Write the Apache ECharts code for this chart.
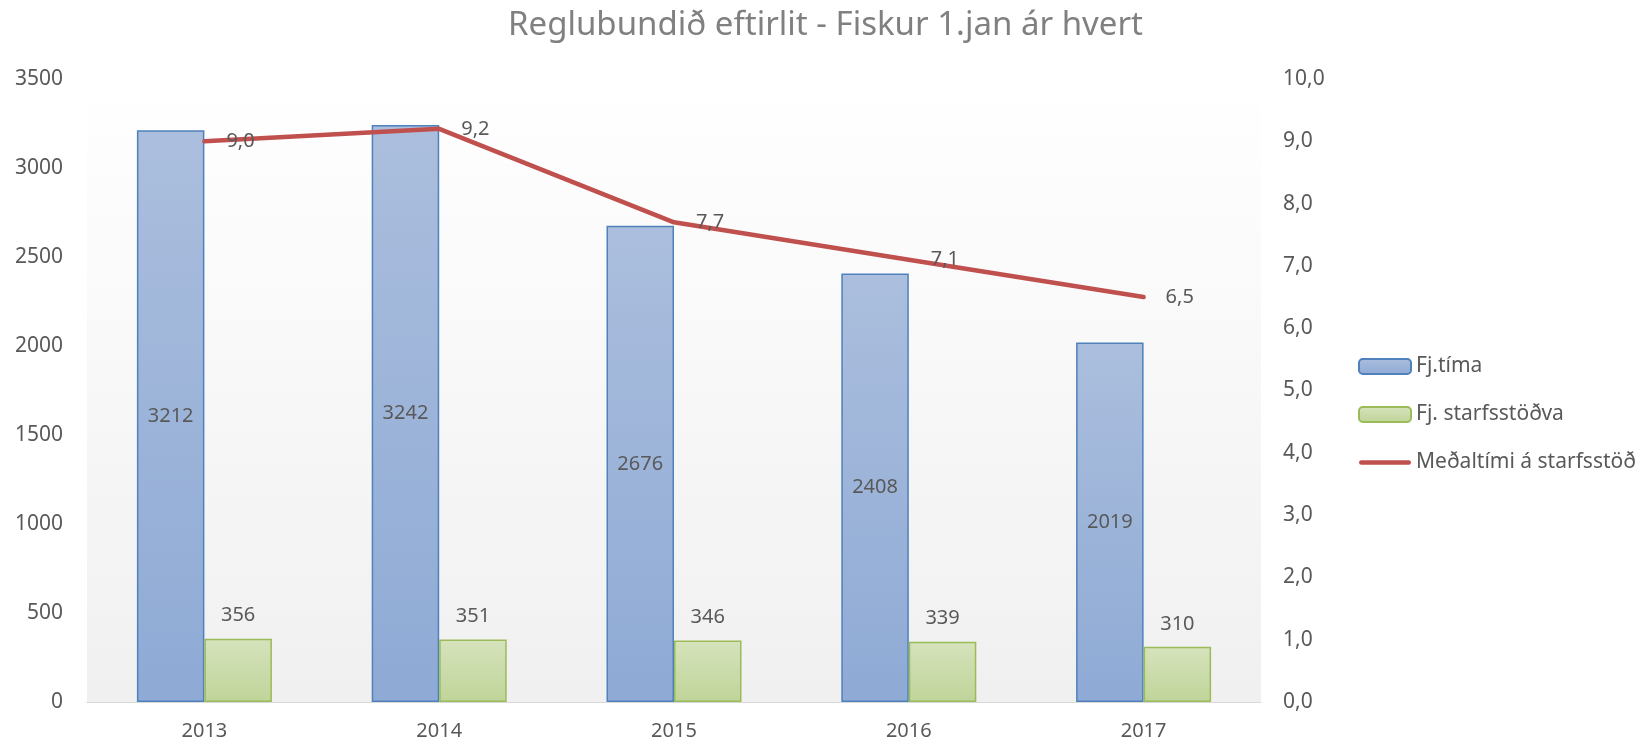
<!DOCTYPE html>
<html>
<head>
<meta charset="utf-8">
<script src="https://cdn.jsdelivr.net/npm/echarts@6/dist/echarts.min.js"></script>
<style>
  html, body { margin: 0; padding: 0; background: #fff; }
  #main { width: 1651px; height: 745px; }
</style>
</head>
<body>
<div id="main"></div>
<script>
const years = ['2013', '2014', '2015', '2016', '2017'];
const fjTima = [3212, 3242, 2676, 2408, 2019];
const fjStarfsstodva = [356, 351, 346, 339, 310];
const medaltimi = [9.0, 9.2, 7.7, 7.1, 6.5];

const chart = echarts.init(document.getElementById('main'));
const font = '"Noto Sans", "Open Sans", sans-serif';
const txt = '#595959';
const comma1 = v => v.toFixed(1).replace('.', ',');

function grad(top, bottom) {
  return new echarts.graphic.LinearGradient(0, 0, 0, 1, [
    { offset: 0, color: top },
    { offset: 1, color: bottom }
  ]);
}

// thin rounded bar used as the legend mark of the line
const lineIcon = 'path://M2.25,0 H49.75 A2.25,2.25 0 0 1 49.75,4.5 H2.25 A2.25,2.25 0 0 1 2.25,0 Z';

const option = {
  animation: false,
  textStyle: { fontFamily: font },
  title: {
    text: 'Reglubundið eftirlit - Fiskur 1.jan ár hvert',
    left: 'center',
    top: 4,
    textStyle: { fontFamily: font, fontSize: 33, fontWeight: 'normal', color: '#808080' }
  },
  grid: {
    left: 87, right: 390, top: 79, bottom: 43,
    show: true,
    borderWidth: 0,
    backgroundColor: grad('#ffffff', '#f0f0f0')
  },
  legend: {
    orient: 'vertical',
    left: 1358,
    top: 356,
    padding: 0,
    itemWidth: 52,
    itemHeight: 15,
    itemGap: 27,
    textStyle: { fontFamily: font, fontSize: 21, color: txt },
    data: [
      'Fj.tíma',
      'Fj. starfsstöðva',
      { name: 'Meðaltími á starfsstöð', icon: lineIcon }
    ]
  },
  xAxis: {
    type: 'category',
    data: years,
    axisLine: { lineStyle: { color: '#d9d9d9', width: 1 } },
    axisTick: { show: false },
    axisLabel: { color: txt, fontSize: 20, margin: 19 }
  },
  yAxis: [
    {
      type: 'value',
      min: 0, max: 3500, interval: 500,
      splitLine: { show: false },
      axisLine: { show: false },
      axisLabel: { color: txt, fontSize: 21, margin: 24, formatter: v => String(v) }
    },
    {
      type: 'value',
      min: 0, max: 10, interval: 1,
      splitLine: { show: false },
      axisLine: { show: false },
      axisLabel: { color: txt, fontSize: 21, margin: 22, formatter: comma1 }
    }
  ],
  series: [
    {
      name: 'Fj.tíma',
      type: 'bar',
      data: fjTima,
      barGap: 0,
      barCategoryGap: '42.5%',
      itemStyle: { color: grad('#abbedd', '#8eaad5'), borderColor: '#4f81bd', borderWidth: 1.5 },
      label: { show: true, position: 'inside', color: txt, fontSize: 20, fontFamily: font }
    },
    {
      name: 'Fj. starfsstöðva',
      type: 'bar',
      data: fjStarfsstodva,
      itemStyle: { color: grad('#d6e3bc', '#bfd499'), borderColor: '#9bbb59', borderWidth: 1.5 },
      label: { show: true, position: 'top', distance: 13, color: txt, fontSize: 20, fontFamily: font }
    },
    {
      name: 'Meðaltími á starfsstöð',
      type: 'line',
      yAxisIndex: 1,
      data: medaltimi,
      symbol: 'circle',
      symbolSize: 0,
      showSymbol: true,
      lineStyle: { color: '#c0504d', width: 4.5, cap: 'round' },
      itemStyle: { color: '#c0504d' },
      label: {
        show: true, position: 'right', distance: 22, color: txt, fontSize: 20, fontFamily: font,
        formatter: p => comma1(p.value)
      },
      z: 5
    }
  ]
};

chart.setOption(option);
</script>
</body>
</html>
